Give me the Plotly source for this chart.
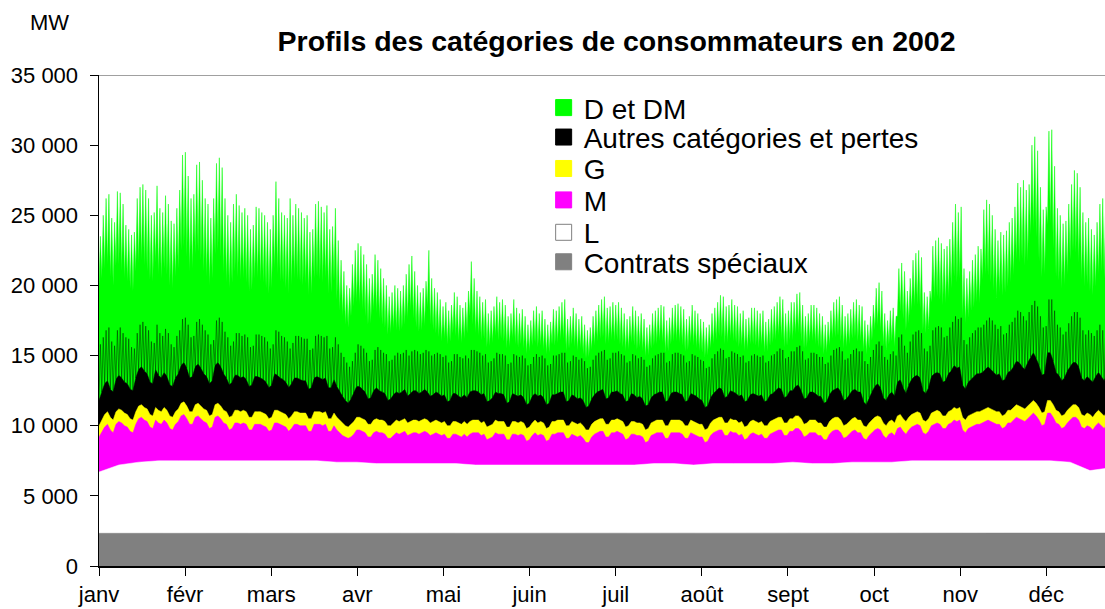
import plotly.graph_objects as go

# ---------------- data (values in hundreds of MW) ----------------
UNIT = 100
MONTHS = ["janv", "févr", "mars", "avr", "mai", "juin", "juil", "août", "sept", "oct", "nov", "déc"]
Y_TICKS = [0, 5000, 10000, 15000, 20000, 25000, 30000, 35000]
Y_MAX = 35000
SERIES_NAMES = ["D et DM", "Autres catégories et pertes", "G", "M", "L", "Contrats spéciaux"]

# daily peak of the total (top of "D et DM")
total_peak = [
    235, 250, 262, 265, 248, 245, 267,
    266, 258, 243, 240, 236, 238, 262,
    270, 272, 268, 262, 250, 252, 271,
    255, 252, 264, 258, 246, 244, 255,
    268, 293, 295, 278, 262, 265, 286,
    288, 275, 262, 258, 248, 262, 287,
    291, 284, 262, 250, 245, 258, 265,
    257, 252, 255, 250, 240, 243, 256,
    255, 252, 250, 245, 240, 250, 274,
    262, 252, 250, 248, 262, 250, 258,
    255, 252, 248, 250, 238, 240, 258,
    260, 256, 252, 257, 240, 242, 255,
    232, 218, 210, 200, 198, 215, 225,
    230, 228, 222, 215, 205, 208, 222,
    218, 212, 205, 200, 192, 195, 200,
    198, 196, 200, 208, 215, 221, 210,
    200, 195, 198, 203, 225, 205, 198,
    195, 190, 185, 188, 182, 186, 195,
    192, 186, 184, 188, 196, 217, 205,
    196, 192, 188, 190, 180, 182, 185,
    192, 188, 190, 186, 178, 180, 190,
    184, 180, 183, 178, 172, 175, 182,
    185, 180, 182, 176, 172, 174, 183,
    182, 185, 188, 190, 176, 178, 184,
    180, 176, 178, 172, 168, 170, 178,
    182, 186, 190, 192, 184, 185, 188,
    186, 188, 184, 180, 176, 178, 185,
    182, 178, 180, 176, 170, 172, 180,
    182, 184, 186, 185, 175, 177, 184,
    186, 187, 185, 183, 176, 178, 186,
    182, 180, 176, 174, 170, 172, 180,
    184, 188, 193, 192, 185, 186, 190,
    186, 185, 180, 182, 176, 177, 184,
    184, 182, 180, 182, 174, 176, 183,
    185, 188, 192, 190, 180, 182, 188,
    188, 194, 195, 186, 178, 180, 186,
    186, 184, 180, 178, 172, 174, 182,
    188, 190, 192, 186, 178, 180, 183,
    188, 190, 186, 185, 175, 172, 178,
    186, 198, 202, 196, 180, 175, 182,
    184, 178, 212, 216, 210, 196, 205,
    218, 223, 225, 220, 195, 192, 196,
    228, 232, 234, 230, 226, 228, 233,
    245, 258, 252, 256, 212, 205, 210,
    218, 222, 228, 226, 254, 261, 258,
    250, 240, 232, 238, 236, 239, 245,
    248, 256, 273, 270, 275, 268, 272,
    300, 306, 296, 270, 254, 256, 310,
    311, 285, 255, 250, 244, 246, 258,
    272, 282, 280, 270, 252, 245, 248,
    240, 236, 245, 258, 262, 255, 260,
    250, 230, 228, 240, 235, 230, 232,
    240,
]

# daily night level of the total
total_trough = [
    200, 205, 212, 215, 206, 200, 214,
    215, 210, 205, 203, 198, 196, 210,
    216, 218, 214, 210, 204, 203, 216,
    208, 205, 212, 208, 200, 198, 206,
    212, 225, 228, 220, 210, 212, 222,
    224, 218, 210, 206, 200, 205, 222,
    225, 220, 208, 202, 198, 202, 210,
    206, 204, 205, 202, 196, 197, 205,
    205, 203, 202, 198, 194, 198, 212,
    208, 203, 202, 198, 194, 200, 205,
    204, 202, 200, 201, 193, 194, 205,
    206, 204, 202, 205, 194, 195, 203,
    190, 182, 178, 172, 170, 178, 185,
    188, 186, 183, 178, 172, 173, 182,
    180, 176, 172, 170, 165, 166, 169,
    168, 167, 169, 172, 176, 182, 176,
    170, 167, 168, 171, 184, 172, 168,
    166, 163, 160, 162, 158, 160, 166,
    164, 160, 159, 162, 166, 178, 172,
    166, 164, 161, 162, 156, 157, 159,
    164, 161, 162, 160, 155, 156, 162,
    158, 156, 158, 155, 151, 153, 157,
    159, 156, 157, 154, 151, 152, 158,
    157, 159, 161, 162, 153, 155, 158,
    156, 153, 155, 151, 148, 149, 154,
    157, 160, 162, 163, 158, 159, 161,
    160, 161, 158, 156, 153, 154, 159,
    157, 154, 156, 153, 149, 150, 155,
    157, 158, 160, 159, 152, 153, 158,
    160, 160, 159, 157, 153, 154, 159,
    157, 155, 153, 152, 149, 150, 155,
    158, 161, 164, 163, 158, 159, 162,
    160, 159, 156, 157, 153, 154, 158,
    158, 157, 155, 157, 152, 153, 157,
    159, 161, 164, 162, 156, 157, 161,
    161, 165, 166, 160, 155, 156, 160,
    160, 158, 156, 155, 151, 152, 157,
    162, 163, 164, 160, 155, 156, 158,
    162, 163, 160, 160, 153, 151, 155,
    161, 168, 171, 167, 157, 154, 158,
    160, 156, 178, 181, 176, 168, 173,
    182, 185, 186, 183, 168, 166, 169,
    188, 191, 192, 190, 186, 187, 191,
    198, 206, 202, 205, 178, 173, 177,
    182, 184, 188, 187, 204, 208, 207,
    202, 196, 191, 195, 193, 195, 199,
    202, 207, 218, 216, 219, 214, 217,
    236, 240, 234, 217, 206, 208, 243,
    244, 226, 206, 203, 198, 200, 208,
    218, 224, 223, 216, 204, 199, 201,
    196, 193, 199, 208, 210, 205, 209,
    202, 188, 186, 195, 191, 188, 190,
    195,
]

# daily peak of "Autres catégories et pertes" (thin dark outlines)
autres_peak = [
    158, 163, 168, 170, 160, 157, 168,
    170, 166, 163, 162, 156, 155, 166,
    172, 174, 171, 168, 160, 159, 172,
    166, 164, 169, 166, 158, 156, 164,
    168, 176, 177, 172, 163, 164, 174,
    176, 172, 168, 165, 158, 161, 175,
    177, 174, 167, 163, 157, 160, 166,
    166, 164, 165, 163, 156, 157, 165,
    165, 164, 163, 160, 155, 158, 168,
    167, 164, 163, 160, 155, 159, 164,
    164, 163, 162, 162, 154, 155, 164,
    165, 164, 163, 164, 155, 156, 163,
    158, 152, 149, 145, 142, 146, 152,
    158, 157, 155, 152, 146, 147, 154,
    156, 154, 152, 151, 146, 147, 150,
    152, 151, 152, 154, 150, 153, 154,
    153, 151, 152, 154, 153, 150, 151,
    152, 151, 149, 150, 145, 146, 151,
    151, 149, 148, 150, 148, 154, 154,
    153, 152, 150, 151, 145, 146, 148,
    152, 151, 151, 150, 144, 145, 151,
    150, 149, 150, 148, 143, 144, 149,
    151, 149, 150, 148, 143, 144, 150,
    150, 151, 152, 152, 145, 146, 150,
    149, 147, 148, 146, 141, 142, 147,
    150, 152, 153, 154, 147, 148, 152,
    152, 153, 151, 150, 145, 146, 151,
    150, 148, 149, 147, 142, 143, 148,
    150, 151, 152, 152, 145, 146, 151,
    152, 152, 151, 150, 145, 146, 151,
    150, 149, 147, 146, 141, 142, 148,
    151, 153, 155, 154, 148, 149, 153,
    152, 151, 149, 150, 145, 146, 150,
    151, 150, 149, 150, 145, 146, 150,
    151, 153, 155, 154, 148, 149, 153,
    153, 156, 157, 153, 147, 148, 152,
    152, 151, 149, 149, 144, 145, 150,
    154, 155, 156, 153, 147, 148, 151,
    154, 155, 153, 153, 146, 144, 149,
    154, 158, 160, 157, 149, 147, 151,
    153, 150, 163, 165, 157, 152, 160,
    165, 167, 168, 166, 155, 153, 157,
    168, 170, 171, 170, 163, 164, 170,
    174, 178, 176, 177, 161, 158, 163,
    166, 168, 170, 170, 172, 175, 177,
    175, 172, 169, 171, 165, 166, 172,
    174, 177, 182, 181, 178, 175, 181,
    186, 189, 185, 178, 170, 171, 190,
    190, 182, 172, 170, 165, 167, 173,
    178, 181, 181, 177, 168, 165, 168,
    166, 164, 168, 172, 168, 165, 171,
    168, 160, 159, 164, 158, 156, 160,
    163,
]

# daily solid top of "Autres catégories et pertes"
autres_top = [
    118, 124, 130, 132, 126, 124, 133,
    136, 134, 131, 130, 126, 125, 134,
    140, 142, 139, 137, 131, 130, 140,
    136, 134, 138, 135, 129, 128, 134,
    137, 143, 145, 141, 134, 135, 142,
    144, 141, 137, 135, 130, 132, 143,
    145, 142, 137, 134, 129, 131, 136,
    136, 134, 135, 133, 128, 129, 135,
    135, 134, 133, 131, 127, 129, 137,
    136, 134, 133, 131, 127, 130, 134,
    134, 133, 132, 132, 126, 127, 134,
    135, 134, 133, 134, 127, 127, 133,
    128, 124, 121, 118, 116, 119, 123,
    128, 128, 126, 124, 119, 120, 125,
    127, 125, 124, 123, 118, 119, 122,
    124, 123, 124, 126, 121, 123, 125,
    125, 123, 124, 126, 124, 121, 122,
    124, 123, 121, 122, 117, 118, 123,
    123, 121, 120, 122, 120, 124, 125,
    125, 124, 122, 123, 117, 118, 120,
    124, 123, 123, 122, 116, 117, 123,
    122, 121, 122, 120, 115, 116, 121,
    123, 121, 122, 120, 115, 116, 122,
    122, 123, 124, 124, 117, 118, 122,
    121, 119, 120, 118, 113, 114, 119,
    122, 124, 125, 126, 119, 120, 124,
    124, 125, 123, 122, 117, 118, 123,
    122, 120, 121, 119, 114, 115, 120,
    122, 123, 124, 124, 117, 118, 123,
    124, 124, 123, 122, 117, 118, 123,
    122, 121, 119, 118, 113, 114, 120,
    123, 125, 127, 126, 120, 121, 125,
    124, 123, 121, 122, 117, 118, 122,
    123, 122, 121, 122, 117, 118, 122,
    123, 125, 127, 126, 120, 121, 125,
    125, 128, 129, 125, 119, 120, 124,
    124, 123, 121, 121, 116, 117, 122,
    125, 126, 127, 124, 118, 119, 122,
    125, 126, 124, 124, 117, 115, 120,
    124, 128, 130, 127, 120, 118, 122,
    124, 121, 131, 133, 127, 123, 129,
    133, 135, 136, 134, 125, 123, 127,
    135, 137, 138, 137, 131, 132, 137,
    139, 143, 141, 142, 129, 126, 131,
    133, 135, 137, 137, 138, 140, 142,
    140, 138, 136, 137, 132, 133, 138,
    139, 142, 146, 145, 142, 140, 145,
    149, 152, 148, 143, 136, 137, 152,
    152, 146, 138, 136, 132, 134, 139,
    142, 145, 145, 142, 134, 132, 135,
    133, 131, 135, 138, 135, 132, 137,
    135, 127, 126, 131, 126, 124, 127,
    130,
]

# daily top of "G"
g_top = [
    100, 104, 108, 110, 106, 104, 110,
    112, 111, 109, 108, 105, 104, 110,
    114, 115, 113, 112, 108, 107, 113,
    111, 110, 113, 111, 107, 106, 110,
    112, 116, 117, 114, 110, 110, 115,
    116, 114, 112, 111, 107, 108, 115,
    116, 114, 111, 110, 106, 107, 111,
    111, 110, 111, 110, 106, 106, 110,
    110, 110, 109, 108, 105, 106, 111,
    111, 110, 109, 108, 105, 107, 110,
    110, 109, 109, 109, 105, 105, 110,
    110, 110, 109, 110, 105, 105, 109,
    106, 104, 102, 100, 99, 101, 103,
    106, 106, 105, 104, 101, 101, 104,
    105, 104, 104, 103, 100, 100, 102,
    104, 103, 104, 105, 102, 103, 104,
    104, 103, 104, 105, 104, 102, 103,
    104, 103, 102, 103, 100, 100, 103,
    103, 102, 101, 103, 101, 103, 104,
    104, 104, 102, 103, 99, 100, 101,
    104, 103, 103, 103, 99, 99, 103,
    103, 102, 103, 102, 98, 99, 102,
    104, 102, 103, 102, 98, 99, 103,
    103, 104, 104, 104, 100, 100, 103,
    102, 101, 102, 100, 97, 97, 101,
    103, 104, 105, 105, 101, 101, 104,
    104, 105, 104, 103, 99, 100, 103,
    103, 102, 102, 101, 97, 98, 102,
    103, 104, 104, 104, 100, 100, 104,
    104, 104, 104, 103, 100, 100, 104,
    103, 102, 101, 101, 97, 98, 102,
    104, 105, 106, 106, 102, 102, 105,
    104, 104, 102, 103, 99, 100, 103,
    104, 103, 102, 103, 100, 100, 103,
    104, 105, 106, 106, 102, 102, 105,
    105, 107, 107, 105, 101, 102, 104,
    104, 104, 102, 102, 99, 99, 103,
    105, 106, 106, 104, 100, 101, 103,
    105, 106, 104, 104, 100, 99, 102,
    104, 106, 107, 106, 102, 100, 103,
    104, 102, 107, 108, 105, 103, 106,
    108, 109, 110, 109, 104, 103, 105,
    109, 110, 111, 110, 107, 107, 110,
    111, 113, 112, 113, 106, 104, 107,
    108, 109, 110, 110, 111, 112, 113,
    112, 111, 110, 110, 107, 108, 111,
    111, 113, 115, 114, 113, 112, 114,
    116, 118, 116, 113, 109, 110, 118,
    118, 115, 111, 110, 107, 108, 111,
    113, 115, 115, 113, 108, 107, 109,
    108, 106, 109, 111, 109, 107, 110,
    109, 104, 103, 106, 103, 101, 103,
    106,
]

# daily top of "M"
m_top = [
    92, 96, 99, 101, 97, 95, 101,
    103, 102, 100, 99, 96, 95, 101,
    105, 106, 104, 103, 99, 98, 104,
    102, 101, 104, 102, 98, 97, 101,
    103, 107, 108, 105, 101, 101, 106,
    107, 105, 103, 102, 98, 99, 106,
    107, 105, 102, 101, 97, 98, 102,
    102, 101, 102, 101, 97, 97, 101,
    101, 101, 100, 99, 96, 97, 102,
    102, 101, 100, 99, 96, 98, 101,
    101, 100, 100, 100, 96, 96, 101,
    101, 101, 100, 101, 96, 96, 100,
    97, 95, 93, 92, 91, 92, 94,
    97, 97, 96, 95, 92, 92, 95,
    96, 95, 95, 94, 91, 91, 93,
    95, 94, 95, 96, 93, 94, 95,
    95, 94, 95, 96, 95, 93, 94,
    95, 94, 93, 94, 91, 91, 94,
    94, 93, 92, 94, 92, 94, 95,
    95, 95, 93, 94, 90, 91, 92,
    95, 94, 94, 94, 90, 90, 94,
    94, 93, 94, 93, 89, 90, 93,
    95, 93, 94, 93, 89, 90, 94,
    94, 95, 95, 95, 91, 91, 94,
    93, 92, 93, 91, 88, 88, 92,
    94, 95, 96, 96, 92, 92, 95,
    95, 96, 95, 94, 90, 91, 94,
    94, 93, 93, 92, 88, 89, 93,
    94, 95, 95, 95, 91, 91, 95,
    95, 95, 95, 94, 91, 91, 95,
    94, 93, 92, 92, 88, 89, 93,
    95, 96, 97, 97, 93, 93, 96,
    95, 95, 93, 94, 90, 91, 94,
    95, 94, 93, 94, 91, 91, 94,
    95, 96, 97, 97, 93, 93, 96,
    96, 98, 98, 96, 92, 93, 95,
    95, 95, 93, 93, 90, 90, 94,
    96, 97, 97, 95, 91, 92, 94,
    96, 97, 95, 95, 91, 90, 93,
    95, 97, 98, 97, 93, 91, 94,
    95, 93, 98, 99, 96, 94, 97,
    99, 100, 101, 100, 95, 94, 96,
    100, 101, 102, 101, 98, 98, 101,
    102, 104, 103, 104, 97, 95, 98,
    99, 100, 101, 101, 102, 103, 104,
    103, 102, 101, 101, 98, 99, 102,
    102, 104, 106, 105, 104, 103, 105,
    107, 109, 107, 104, 100, 101, 109,
    109, 106, 102, 101, 98, 99, 102,
    104, 106, 106, 104, 99, 98, 100,
    99, 97, 100, 102, 100, 98, 101,
    100, 95, 94, 97, 94, 92, 94,
    97,
]

# weekly top of "L" and of "Contrats spéciaux"
l_top_weekly = [
    67, 72, 74, 75, 75, 75, 75, 75, 75, 75, 75, 75, 74, 74,
    73, 73, 73, 73, 73, 72, 72, 72, 72, 72, 72, 72, 72, 72,
    73, 73, 72, 73, 73, 73, 73, 74, 73, 73, 74, 74, 74, 75,
    75, 75, 75, 75, 75, 75, 75, 74, 68, 70, 71,
]
cs_top_weekly = [
    23.3, 23.3, 23.5, 23.5, 23.5, 23.5, 23.5, 23.5, 23.5, 23.5, 23.5, 23.5, 23.5, 23.5,
    23.5, 23.5, 23.5, 23.5, 23.5, 23.5, 23.5, 23.0, 23.0, 23.5, 23.5, 23.5, 23.5, 23.5,
    23.5, 23.5, 23.5, 23.5, 23.5, 23.5, 23.5, 23.5, 23.5, 23.5, 23.5, 23.5, 23.5, 23.5,
    23.5, 23.5, 23.5, 23.5, 23.5, 23.5, 23.5, 23.5, 23.5, 23.5, 23.5,
]

# ---------------- styles ----------------
GREEN, BLACK, YELLOW, MAGENTA, WHITE, GREY = "#00FF00", "#000000", "#FFFF00", "#FF00FF", "#FFFFFF", "#808080"
FONT = "Arial, Liberation Sans, sans-serif"
DAYS_IN_YEAR = 365
DAY_HALF = 0.5

n = min(len(total_peak), len(total_trough), len(autres_peak), len(autres_top), len(g_top), len(m_top))
days = list(range(n))

x_zig, y_total, y_autres_lines = [], [], []
for d in days:
    x_zig += [d, d + DAY_HALF]
    y_total += [total_trough[d] * UNIT, total_peak[d] * UNIT]
    y_autres_lines += [autres_top[d] * UNIT, autres_peak[d] * UNIT]

weeks_x = [7 * w for w in range(len(l_top_weekly))]

fig = go.Figure()

fig.add_trace(go.Scatter(x=x_zig, y=y_total, mode="lines", fill="tozeroy",
                         fillcolor=GREEN, line=dict(color=GREEN, width=0.5),
                         showlegend=False, hoverinfo="skip"))
fig.add_trace(go.Scatter(x=x_zig, y=y_autres_lines, mode="lines",
                         line=dict(color="rgba(0,40,0,0.85)", width=0.6),
                         showlegend=False, hoverinfo="skip"))
fig.add_trace(go.Scatter(x=days, y=[v * UNIT for v in autres_top[:n]], mode="lines", fill="tozeroy",
                         fillcolor=BLACK, line=dict(color=BLACK, width=0.5),
                         showlegend=False, hoverinfo="skip"))
fig.add_trace(go.Scatter(x=days, y=[v * UNIT for v in g_top[:n]], mode="lines", fill="tozeroy",
                         fillcolor=YELLOW, line=dict(color=YELLOW, width=0.5),
                         showlegend=False, hoverinfo="skip"))
fig.add_trace(go.Scatter(x=days, y=[v * UNIT for v in m_top[:n]], mode="lines", fill="tozeroy",
                         fillcolor=MAGENTA, line=dict(color=MAGENTA, width=0.5),
                         showlegend=False, hoverinfo="skip"))
fig.add_trace(go.Scatter(x=weeks_x, y=[v * UNIT for v in l_top_weekly], mode="lines", fill="tozeroy",
                         fillcolor=WHITE, line=dict(color=WHITE, width=0.5),
                         showlegend=False, hoverinfo="skip"))
fig.add_trace(go.Scatter(x=weeks_x[:len(cs_top_weekly)], y=[v * UNIT for v in cs_top_weekly], mode="lines",
                         fill="tozeroy", fillcolor=GREY, line=dict(color=GREY, width=0.5),
                         showlegend=False, hoverinfo="skip"))

# legend entries, one small legend per entry so the rows sit as tightly as in the reference
legend_fill = [GREEN, BLACK, YELLOW, MAGENTA, WHITE, GREY]
legend_edge = [GREEN, BLACK, YELLOW, MAGENTA, GREY, GREY]
legend_rows_y = [0.933, 0.873, 0.809, 0.745, 0.679, 0.619]
LEGEND_X = 0.442

legend_layouts = {}
for i, name in enumerate(SERIES_NAMES):
    key = "legend" if i == 0 else "legend%d" % (i + 1)
    fig.add_trace(go.Scatter(x=[None], y=[None], mode="markers", name=name, legend=key,
                             marker=dict(symbol="square", size=16, color=legend_fill[i],
                                         line=dict(color=legend_edge[i], width=1))))
    legend_layouts[key] = dict(x=LEGEND_X, y=legend_rows_y[i], xanchor="left", yanchor="middle",
                               font=dict(family=FONT, size=28, color="black"),
                               bgcolor="rgba(0,0,0,0)", borderwidth=0)

month_ticks = [i * DAYS_IN_YEAR / 12 for i in range(12)]

fig.update_layout(
    width=1105, height=609,
    margin=dict(l=99, r=0, t=75, b=43),
    paper_bgcolor="white", plot_bgcolor="white",
    separators=", ",
    showlegend=True,
    hovermode=False,
    font=dict(family=FONT, size=22, color="black"),
    title=dict(text="<b>Profils des catégories de consommateurs en 2002</b>",
               font=dict(family=FONT, size=28.5, color="black"),
               x=0.558, xanchor="center", y=0.933, yanchor="middle"),
    xaxis=dict(range=[0, 355.3], tickvals=month_ticks, ticktext=MONTHS,
               ticks="outside", ticklen=8, tickcolor="black", tickwidth=1,
               showline=True, linecolor="black", linewidth=1.5,
               showgrid=False, zeroline=False, tickfont=dict(size=22)),
    yaxis=dict(range=[0, Y_MAX], tickvals=Y_TICKS, tickformat=",d",
               ticks="outside", ticklen=8, tickcolor="black", tickwidth=1,
               ticklabelstandoff=7,
               showline=True, linecolor="black", linewidth=1.5,
               showgrid=False, zeroline=False, tickfont=dict(size=22)),
    annotations=[dict(text="MW", x=-0.049, y=1.107, xref="paper", yref="paper",
                      xanchor="center", yanchor="middle",
                      showarrow=False, font=dict(family=FONT, size=22, color="black"))],
    shapes=[dict(type="line", xref="paper", x0=0, x1=1, yref="y", y0=Y_MAX, y1=Y_MAX,
                 line=dict(color=GREY, width=1.5))],
)
fig.update_layout(**legend_layouts)

fig.write_html("out.html", config={"displayModeBar": False, "staticPlot": True},
               post_script="document.body.style.margin='0';")
